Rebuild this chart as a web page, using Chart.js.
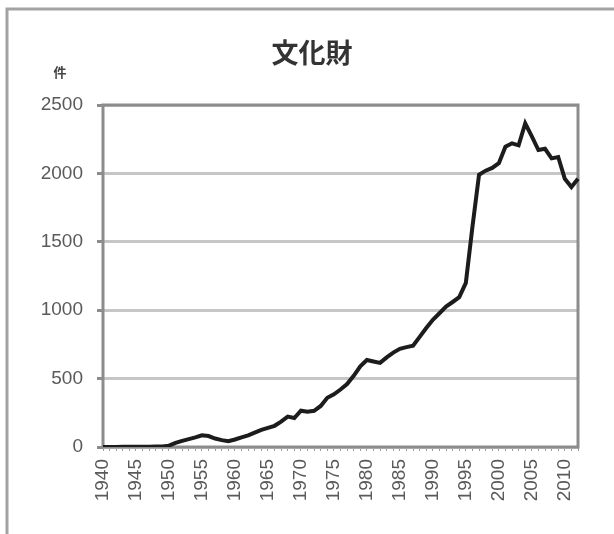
<!DOCTYPE html>
<html>
<head>
<meta charset="utf-8">
<script src="https://cdn.jsdelivr.net/npm/chart.js@4/dist/chart.umd.min.js"></script>
<style>
  html, body { margin: 0; padding: 0; background: #fff; }
  #c { display: block; }
</style>
</head>
<body>
<canvas id="c" width="614" height="534"></canvas>
<script>
// Registered cultural properties per year (件)
const years = [
  1940, 1941, 1942, 1943, 1944, 1945, 1946, 1947, 1948, 1949,
  1950, 1951, 1952, 1953, 1954, 1955, 1956, 1957, 1958, 1959,
  1960, 1961, 1962, 1963, 1964, 1965, 1966, 1967, 1968, 1969,
  1970, 1971, 1972, 1973, 1974, 1975, 1976, 1977, 1978, 1979,
  1980, 1981, 1982, 1983, 1984, 1985, 1986, 1987, 1988, 1989,
  1990, 1991, 1992, 1993, 1994, 1995, 1996, 1997, 1998, 1999,
  2000, 2001, 2002, 2003, 2004, 2005, 2006, 2007, 2008, 2009,
  2010, 2011, 2012
];
const counts = [
  0, 0, 0, 1, 1, 1, 2, 2, 3, 4,
  10, 30, 45, 58, 70, 85, 80, 62, 50, 42,
  55, 70, 85, 105, 125, 140, 155, 185, 222, 212,
  265, 258, 265, 300, 360, 385, 420, 460, 520, 590,
  636, 625, 615, 655, 690, 718, 730, 740, 805, 870,
  930, 978, 1026, 1060, 1095, 1200, 1610, 1990, 2020, 2040,
  2075, 2195, 2220, 2205, 2366, 2270, 2171, 2180, 2110, 2120,
  1960, 1900, 1960
];
const yTicks = [0, 500, 1000, 1500, 2000, 2500];
const titleText = '文化財';
const unitText = '件';

const labelFont = { family: '"Liberation Sans", Arial, sans-serif', size: 19 };

// Frame around the chart, title, unit label and border of the plot area
const decorations = {
  id: 'decorations',
  beforeDraw(chart) {
    const ctx = chart.ctx;
    ctx.save();
    ctx.fillStyle = '#ffffff';
    ctx.fillRect(0, 0, chart.width, chart.height);
    ctx.strokeStyle = '#a3a3a3';
    ctx.lineWidth = 3;
    ctx.beginPath();
    ctx.moveTo(7, chart.height + 5);
    ctx.lineTo(7, 9);
    ctx.lineTo(chart.width + 5, 9);
    ctx.stroke();

    ctx.textAlign = 'center';
    ctx.textBaseline = 'middle';
    ctx.fillStyle = '#333333';
    ctx.font = 'bold 27px "Noto Sans CJK JP", sans-serif';
    ctx.fillText(titleText, 312, 53);

    ctx.fillStyle = '#444444';
    ctx.font = 'bold 13px "Noto Sans CJK JP", sans-serif';
    ctx.fillText(unitText, 60, 72);
    ctx.restore();
  },
  beforeDatasetsDraw(chart) {
    const a = chart.chartArea;
    const ctx = chart.ctx;
    ctx.save();
    ctx.strokeStyle = '#8c8c8c';
    ctx.lineWidth = 3;
    ctx.strokeRect(a.left, a.top, a.right - a.left, a.bottom - a.top);
    ctx.restore();
  }
};

new Chart(document.getElementById('c'), {
  type: 'line',
  data: {
    labels: years,
    datasets: [{
      data: counts,
      borderColor: '#1c1c1c',
      borderWidth: 4,
      pointRadius: 0,
      tension: 0,
      fill: false
    }]
  },
  options: {
    responsive: false,
    animation: false,
    layout: { padding: { left: 8, right: 36, top: 105, bottom: 20 } },
    plugins: {
      legend: { display: false },
      tooltip: { enabled: false },
      title: { display: false }
    },
    scales: {
      x: {
        type: 'category',
        offset: false,
        border: { display: false },
        grid: { display: true, drawOnChartArea: false, tickLength: 4, tickColor: '#9a9a9a', lineWidth: 1 },
        ticks: {
          autoSkip: false,
          maxRotation: 90,
          minRotation: 90,
          padding: 8,
          color: '#5a5a5a',
          font: labelFont,
          callback(value) {
            const y = years[value];
            return y % 5 === 0 ? String(y) : '';
          }
        },
        afterFit(scale) { scale.height = 67; }
      },
      y: {
        min: yTicks[0],
        max: yTicks[yTicks.length - 1],
        border: { display: false },
        grid: { color: '#c6c6c6', lineWidth: 3, tickLength: 6, tickColor: '#8c8c8c' },
        ticks: {
          stepSize: yTicks[1] - yTicks[0],
          padding: 14,
          color: '#5a5a5a',
          font: labelFont,
          callback(value) { return String(value); }
        },
        afterBuildTicks(scale) { scale.ticks = yTicks.map(v => ({ value: v })); },
        afterFit(scale) { scale.width = 95; }
      }
    }
  },
  plugins: [decorations]
});
</script>
</body>
</html>
